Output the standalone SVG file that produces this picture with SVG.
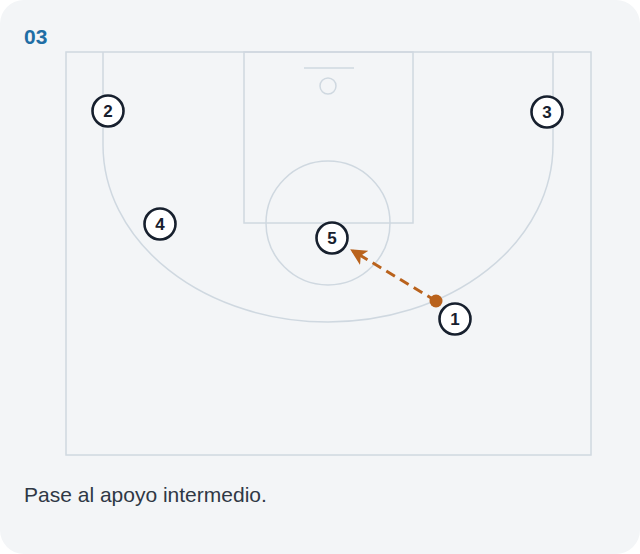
<svg xmlns="http://www.w3.org/2000/svg" width="640" height="554" viewBox="0 0 640 554">
<defs>
<style>
.court{fill:none;stroke:#cfd8e0;stroke-width:1.5}
.player circle{fill:#ffffff;stroke:#17202e;stroke-width:2.6}
.player text{font-family:"Liberation Sans",Arial,sans-serif;font-weight:bold;font-size:17px;fill:#17202e;text-anchor:middle}
.pass{fill:none;stroke:#b9621c;stroke-width:3;stroke-dasharray:10 6}
</style>
<marker id="ah" viewBox="0 0 10 10" refX="8" refY="5" markerWidth="5.5" markerHeight="5.5" orient="auto" markerUnits="strokeWidth">
<path d="M0,0 L10,5 L0,10 L2.5,5 Z" fill="#b9621c"/>
</marker>
</defs>
<rect x="0" y="0" width="640" height="554" fill="#ffffff"/>
<rect x="0" y="0" width="640" height="554" rx="24" fill="#f3f5f7"/>
<text x="24" y="44" font-family="Liberation Sans,Arial,sans-serif" font-weight="bold" font-size="21" fill="#1f6ea5">03</text>
<g id="court">
<rect class="court" x="66" y="52" width="525" height="403" stroke-width="2"/>
<rect class="court" x="244" y="52" width="169" height="171"/>
<line class="court" x1="304" y1="68" x2="354" y2="68" stroke-width="2"/>
<circle class="court" cx="328" cy="86" r="8"/>
<circle class="court" cx="328" cy="223" r="62"/>
<path class="court" d="M103,52 L103,145 A225,177 0 0 0 553,145 L553,52"/>
</g>
<g id="connectors">
<line class="pass" x1="436" y1="301" x2="353" y2="251" marker-end="url(#ah)"/>
<circle cx="436" cy="301" r="6.5" fill="#b9621c"/>
</g>
<g id="p2" class="player"><circle cx="108" cy="111" r="15.5"/><text x="108" y="117">2</text></g>
<g id="p3" class="player"><circle cx="547" cy="112" r="15.5"/><text x="547" y="118">3</text></g>
<g id="p4" class="player"><circle cx="160" cy="224" r="15.5"/><text x="160" y="230">4</text></g>
<g id="p5" class="player"><circle cx="332" cy="238" r="15.5"/><text x="332" y="244">5</text></g>
<g id="p1" class="player"><circle cx="455" cy="319" r="15.5"/><text x="455" y="325">1</text></g>
<text x="24" y="502" font-family="Liberation Sans,Arial,sans-serif" font-size="21" fill="#2f3845">Pase al apoyo intermedio.</text>
</svg>
